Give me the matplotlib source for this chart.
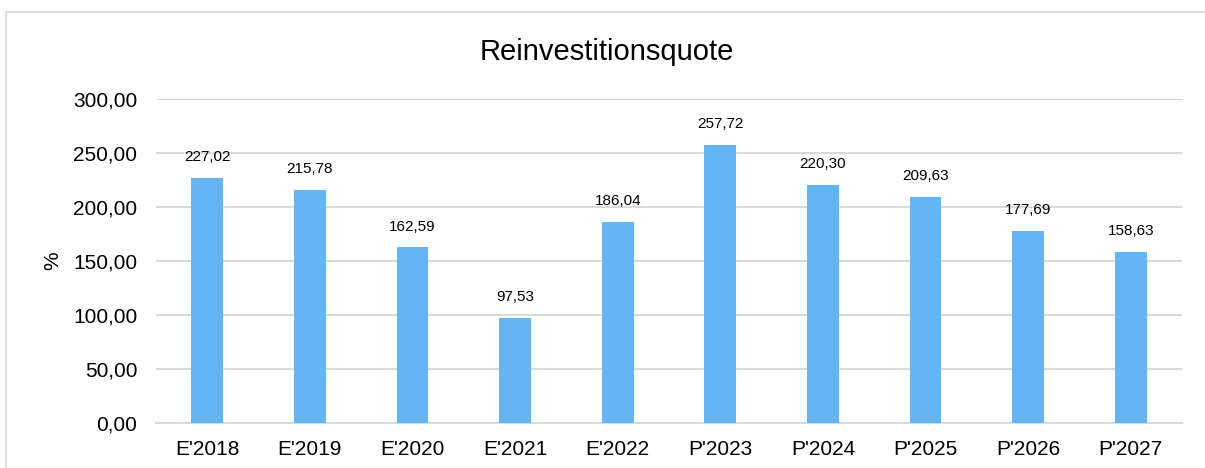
import matplotlib
matplotlib.use("Agg")
import matplotlib.pyplot as plt
from matplotlib.lines import Line2D

plt.rcParams['font.family'] = ['Liberation Sans', 'DejaVu Sans']

categories = ["E'2018", "E'2019", "E'2020", "E'2021", "E'2022",
              "P'2023", "P'2024", "P'2025", "P'2026", "P'2027"]
values = [227.02, 215.78, 162.59, 97.53, 186.04,
          257.72, 220.30, 209.63, 177.69, 158.63]
yticks = [0, 50, 100, 150, 200, 250, 300]

W, H = 1205, 468
fig = plt.figure(figsize=(W / 100, H / 100), dpi=100)
ax = fig.add_axes([156 / W, 1 - 423 / H, (1182 - 156) / W, (423 - 99) / H])

bar_color = "#64B5F6"
grid_color = "#D9D9D9"

x = range(len(categories))
ax.bar(x, values, width=0.31, color=bar_color, zorder=3)
ax.set_xlim(-0.5, len(categories) - 0.5)
ax.set_ylim(0, 300)

ax.set_yticks(yticks)
ax.set_yticklabels([f"{v:.2f}".replace(".", ",") for v in yticks], fontsize=15)
ax.set_xticks(list(x))
ax.set_xticklabels(categories, fontsize=15)
ax.tick_params(axis="both", length=0)
ax.tick_params(axis="x", pad=12)
ax.tick_params(axis="y", pad=13.5)

ax.grid(axis="y", color=grid_color, linewidth=1.5, zorder=0)
for s in ["top", "right", "left"]:
    ax.spines[s].set_visible(False)
ax.spines["bottom"].set_color(grid_color)
ax.spines["bottom"].set_linewidth(1.5)

for xi, v in zip(x, values):
    ax.annotate(f"{v:.2f}".replace(".", ","), (xi, v), xytext=(0, 10),
                textcoords="offset points", ha="center", va="bottom", fontsize=11)

ax.set_ylabel("%", fontsize=15, labelpad=8)
fig.text(607 / W, 1 - 52 / H, "Reinvestitionsquote", ha="center", va="center", fontsize=21)

# chart area frame
fig.add_artist(Line2D([6 / W, 1.0], [1 - 12 / H, 1 - 12 / H], color="#D9D9D9", linewidth=1.2,
                      transform=fig.transFigure))
fig.add_artist(Line2D([6 / W, 6 / W], [0, 1 - 12 / H], color="#D9D9D9", linewidth=1.2,
                      transform=fig.transFigure))

fig.savefig("out.png", dpi=100)
